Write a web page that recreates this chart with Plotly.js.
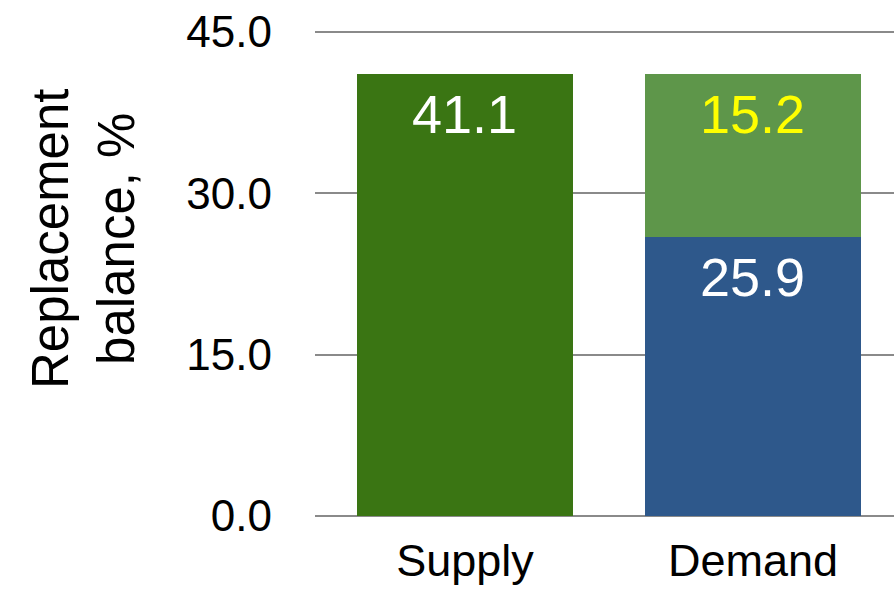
<!DOCTYPE html>
<html>
<head>
<meta charset="utf-8">
<script src="https://cdn.plot.ly/plotly-3.0.1.min.js"></script>
<style>html,body{margin:0;padding:0;background:#fff;}#chart{width:894px;height:594px;}</style>
</head>
<body>
<div id="chart"></div>
<script>
const categories = ["Supply", "Demand"];
const supplyValues = [41.1, null];
const demandBase = [null, 25.9];
const demandTop = [null, 15.2];
const yTicks = [0, 15, 30, 45];
const yTitle = "Replacement<br>balance, %";

const FONT = "Liberation Sans, Arial, Helvetica, sans-serif";

const traces = [
  {type: "bar", x: categories, y: supplyValues, marker: {color: "#3a7513"}, width: 0.75, hoverinfo: "none"},
  {type: "bar", x: categories, y: demandBase, marker: {color: "#2e588b"}, width: 0.75, hoverinfo: "none"},
  {type: "bar", x: categories, y: demandTop, marker: {color: "#5e964a"}, width: 0.75, hoverinfo: "none"}
];

const annotations = [];
const stacks = [supplyValues, demandBase, demandTop];
const textColors = ["#ffffff", "#ffffff", "#ffff00"];
const cum = [0, 0];
stacks.forEach((vals, s) => {
  vals.forEach((v, i) => {
    if (v === null) return;
    cum[i] += v;
    annotations.push({
      x: categories[i], y: cum[i], xref: "x", yref: "y",
      text: v.toFixed(1), showarrow: false, yanchor: "middle", yshift: -40,
      font: {family: FONT, size: 54, color: textColors[s]}
    });
  });
});

annotations.push({
  text: yTitle, xref: "paper", yref: "paper", x: -0.4, y: 0.572,
  xanchor: "center", yanchor: "middle", textangle: -90, showarrow: false,
  font: {family: FONT, size: 51, color: "#000"}
});

const layout = {
  width: 894, height: 594,
  margin: {l: 315, r: 0, t: 31, b: 78, pad: 0},
  paper_bgcolor: "#ffffff", plot_bgcolor: "#ffffff",
  barmode: "stack",
  showlegend: false,
  xaxis: {
    range: [-0.5208, 1.4896], fixedrange: true,
    showgrid: false, showline: false, zeroline: false, ticks: "",
    ticklabelstandoff: 14,
    tickfont: {family: FONT, size: 45, color: "#000"}
  },
  yaxis: {
    range: [0, 45.1], tickvals: yTicks, ticktext: yTicks.map(v => v.toFixed(1)),
    showgrid: true, gridcolor: "#8a8a8a", gridwidth: 2,
    zeroline: true, zerolinecolor: "#8a8a8a", zerolinewidth: 2,
    showline: false, ticks: "", ticklabelstandoff: 42,
    tickfont: {family: FONT, size: 44, color: "#000"}
  },
  annotations: annotations
};

Plotly.newPlot("chart", traces, layout, {staticPlot: true, displayModeBar: false});
</script>
</body>
</html>
